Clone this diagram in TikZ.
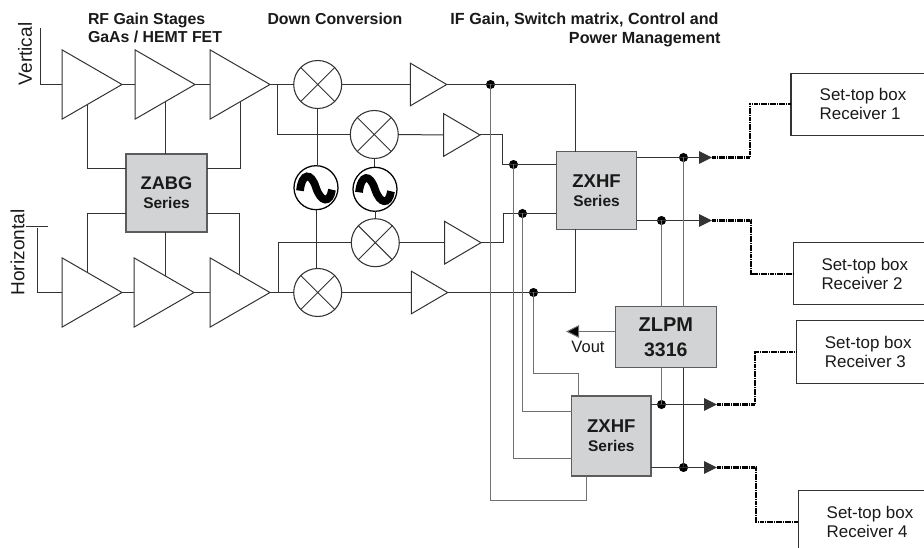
\documentclass[tikz,border=0pt]{standalone}
\usepackage{fontspec}
\setmainfont{Liberation Sans}
\usetikzlibrary{shapes.geometric,arrows.meta,calc}
\definecolor{boxgray}{HTML}{D1D3D4}
\definecolor{wiredark}{HTML}{333333}
\definecolor{wiregray}{HTML}{707070}
\definecolor{txt}{HTML}{1A1A1A}
\tikzset{
  x=0.75pt,y=-0.75pt,
  every node/.style={text=txt,outer sep=0pt},
  wire/.style={draw=wiredark,line width=0.75pt},
  bus/.style={draw=wiregray,line width=0.95pt},
  amp/.style={isosceles triangle,isosceles triangle stretches,shape border rotate=0,draw=wiredark,fill=white,line width=0.75pt,inner sep=0pt,anchor=apex},
  rfamp/.style={amp,minimum width=52pt,minimum height=45pt},
  ifamp/.style={amp,minimum width=32pt,minimum height=27.3pt},
  mixer/.style={circle,draw=wiredark,fill=white,line width=0.8pt,minimum size=36pt,inner sep=0pt,
    path picture={\draw[wiredark,line width=0.7pt] (path picture bounding box.north west)--(path picture bounding box.south east) (path picture bounding box.north east)--(path picture bounding box.south west);}},
  osc/.style={circle,draw=black,fill=white,line width=0.95pt,minimum size=33pt,inner sep=0pt,
    path picture={\draw[black,line width=5.8pt,shift={(path picture bounding box.center)}] (-16,3) .. controls (-14,-15) and (-5,-16) .. (0,0) .. controls (5,15) and (14,16) .. (16,2);}},
  grayblock/.style={draw=wiredark!80,fill=boxgray,line width=0.9pt,inner sep=0pt,align=center,font=\bfseries},
  rx/.style={draw=wiredark,fill=white,line width=0.8pt,inner sep=0pt,align=left,font=\fontsize{12.7}{14.2}\selectfont},
  dot/.style={circle,fill=black,inner sep=0pt,minimum size=6.8pt},
  head/.style={inner sep=0pt,font=\bfseries\fontsize{11.9}{13.5}\selectfont},
  side/.style={rotate=90,font=\fontsize{14.3}{15}\selectfont},
  feed/.style={draw=black,line width=1.6pt,dash pattern=on 1.3pt off 0.4pt},
  outarrow/.style={wire,-{Triangle[length=9.75pt,width=9.5pt]}},
}
\begin{document}
\begin{tikzpicture}
\useasboundingbox (0,0) rectangle (924,548);
% headings
\node[head,anchor=base west] (h1) at (88,25) {RF Gain Stages};
\node[head,anchor=base west] (h2) at (88,43) {GaAs / HEMT FET};
\node[head,anchor=base west] (h3) at (267.5,25) {Down Conversion};
\node[head,anchor=base east,font=\bfseries\fontsize{12.1}{13.5}\selectfont] (h4) at (718.5,25) {IF Gain, Switch matrix, Control and};
\node[head,anchor=base east,font=\bfseries\fontsize{12.1}{13.5}\selectfont] (h5) at (720.5,43.5) {Power Management};
\node[side] (lv) at (25,54) {Vertical};
\node[side] (lh) at (17.5,252.5) {Horizontal};
% amplifiers
\node[rfamp] (v1) at (122,84.5) {};
\node[rfamp] (v2) at (195,84.5) {};
\node[rfamp] (v3) at (270,84.5) {};
\node[rfamp] (h1a) at (122,292.5) {};
\node[rfamp] (h2a) at (194,292.5) {};
\node[rfamp] (h3a) at (270,292.5) {};
\node[ifamp] (a1) at (446.7,84.5) {};
\node[ifamp] (a2) at (480,135) {};
\node[ifamp] (a3) at (481,242.7) {};
\node[ifamp] (a4) at (447.7,292.5) {};
% mixers, oscillators
\node[mixer] (m1) at (317.7,84.5) {};
\node[mixer] (m2) at (374.3,134.5) {};
\node[mixer] (m3) at (375.3,242.7) {};
\node[mixer] (m4) at (317.7,292.5) {};
\node[osc] (o1) at (316,187.7) {};
\node[osc] (o2) at (375,189.3) {};
% blocks
\node[grayblock,minimum width=60.75pt,minimum height=58.5pt] (zabg) at (166.5,193) {\fontsize{13.7}{15}\selectfont ZABG\\[2pt]\fontsize{11.6}{13}\selectfont Series};
\node[grayblock,minimum width=60.3pt,minimum height=58.2pt] (zx1) at (596.5,190.5) {\fontsize{13.9}{15}\selectfont ZXHF\\[2pt]\fontsize{11.6}{13}\selectfont Series};
\node[grayblock,minimum width=59.5pt,minimum height=60pt] (zx2) at (611.3,436) {\fontsize{13.9}{15}\selectfont ZXHF\\[2pt]\fontsize{11.6}{13}\selectfont Series};
\node[grayblock,minimum width=75.7pt,minimum height=45.7pt] (zlpm) at (665.8,337.2) {\fontsize{15}{18}\selectfont ZLPM\\[7pt]\fontsize{14.6}{18}\selectfont 3316};
% receivers (their right sides run off the page)
\node[rx,minimum width=108pt,minimum height=46.5pt] (r1) at (863,104.3) {Set-top box\\Receiver 1};
\node[rx,minimum width=107.5pt,minimum height=47pt] (r2) at (864.8,273.6) {Set-top box\\Receiver 2};
\node[rx,minimum width=107.5pt,minimum height=47pt] (r3) at (868.2,351.8) {Set-top box\\Receiver 3};
\node[rx,minimum width=107.5pt,minimum height=47pt] (r4) at (870,522) {Set-top box\\Receiver 4};
\node[font=\fontsize{12.4}{14}\selectfont] (vout) at (588,347) {Vout};
% junctions
\node[dot] (d1) at (490.5,84.5) {};
\node[dot] (d2) at (513.5,164.5) {};
\node[dot] (d3) at (522.5,213.5) {};
\node[dot] (d4) at (533.5,292.5) {};
\node[dot] (d5) at (683.5,157.5) {};
\node[dot] (d6) at (661.5,220.5) {};
\node[dot] (d7) at (661.5,404.5) {};
\node[dot] (d8) at (683.5,467.5) {};
% free points
\coordinate (vin) at (40.5,28);
\coordinate (hin) at (37.5,228);
\coordinate (tl) at (26,226.5);
\coordinate (tr) at (47.5,226.5);
\coordinate (tv1) at (87.5,104.6);
\coordinate (tv2) at (165.5,101.5);
\coordinate (tv3) at (240.5,102);
\coordinate (th1) at (87.5,271.6);
\coordinate (th2) at (165.5,275.8);
\coordinate (th3) at (239.5,274.4);
\coordinate (rowa) at (0,168.5);
\coordinate (rowb) at (0,213.5);
\coordinate (brv) at (277.5,84.5);
\coordinate (brh) at (278.5,292.5);
\coordinate (c2) at (502.5,135);
\coordinate (c3) at (503.5,242.7);
\coordinate (t1) at (575.5,84.5);
\coordinate (b4) at (575.5,292.5);
\coordinate (f1) at (586.5,500.5);
\coordinate (f2) at (513.5,458.5);
\coordinate (f3) at (522.5,411.5);
\coordinate (f4) at (578.5,373.5);
\coordinate (vtip) at (566,331.5);
\coordinate (e1) at (712,157.5);
\coordinate (e2) at (712,220.5);
\coordinate (e3) at (717,404.5);
\coordinate (e4) at (717,467.5);
\coordinate (k1) at (750.3,157.5);
\coordinate (k2) at (751,220.5);
\coordinate (k3) at (755.3,404.5);
\coordinate (k4) at (756,467.5);
% inputs
\draw[wire] (vin) |- (v1.lower side);
\draw[wire] (tl) -- (tr);
\draw[wire] (hin) |- (h1a.lower side);
% RF chain
\draw[wire] (v1.apex) -- (v2.lower side);
\draw[wire] (v2.apex) -- (v3.lower side);
\draw[wire] (v3.apex) -- (m1.west);
\draw[wire] (h1a.apex) -- (h2a.lower side);
\draw[wire] (h2a.apex) -- (h3a.lower side);
\draw[wire] (h3a.apex) -- (m4.west);
\draw[wire] (brv) |- (m2.west);
\draw[wire] (brh) |- (m3.west);
% gain control
\draw[wire] (tv1) |- (zabg.west |- rowa);
\draw[wire] (tv2) -- (tv2 |- zabg.north);
\draw[wire] (tv3) |- (zabg.east |- rowa);
\draw[wire] (th1) |- (zabg.west |- rowb);
\draw[wire] (th2) -- (th2 |- zabg.south);
\draw[wire] (th3) |- (zabg.east |- rowb);
% LO
\draw[wire] (m1.south) -- (m1.south |- o1.north);
\draw[wire] (o1.south) -- (o1.south |- m4.north);
\draw[wire] (m2.south) -- (m2.south |- o2.north);
\draw[wire] (o2.south) -- (o2.south |- m3.north);
% IF
\draw[wire] (m1.east) -- (a1.lower side);
\draw[wire] (m2.east) -- (a2.lower side);
\draw[wire] (m3.east) -- (a3.lower side);
\draw[wire] (m4.east) -- (a4.lower side);
\draw[wire] (a1.apex) -- (d1.center) -| (zx1.north -| t1);
\draw[wire] (a2.apex) -- (c2) |- (d2.center) -- (zx1.west |- d2);
\draw[wire] (a3.apex) -- (c3) |- (d3.center) -- (zx1.west |- d3);
\draw[wire] (a4.apex) -- (d4.center) -- (b4) -- (b4 |- zx1.south);
% buses to second switch
\draw[bus] (d1.center) |- (f1) -- (f1 |- zx2.south);
\draw[bus] (d2.center) |- (zx2.west |- f2);
\draw[bus] (d3.center) |- (zx2.west |- f3);
\draw[bus] (d4.center) |- (f4) -- (f4 |- zx2.north);
% outputs
\draw[outarrow] (zx1.east |- e1) -- (e1);
\draw[outarrow] (zx1.east |- e2) -- (e2);
\draw[outarrow] (zx2.east |- e3) -- (e3);
\draw[outarrow] (zx2.east |- e4) -- (e4);
\draw[bus] (d5.center) -- (d5 |- zlpm.north);
\draw[bus] (d6.center) -- (d6 |- zlpm.north);
\draw[bus] (d7.center) -- (d7 |- zlpm.south);
\draw[wire] (d5 |- zlpm.south) -- (d8.center);
\draw[wire,draw=wiregray,-{Triangle[length=9.75pt,width=9.5pt,fill=black]}] (zlpm.west |- vtip) -- (vtip);
% feeds
\draw[feed] (e1) -- (k1) |- (r1.west);
\draw[feed] (e2) -- (k2) |- (r2.west);
\draw[feed] (e3) -- (k3) |- (r3.west);
\draw[feed] (e4) -- (k4) |- (r4.west);
\end{tikzpicture}
\end{document}
